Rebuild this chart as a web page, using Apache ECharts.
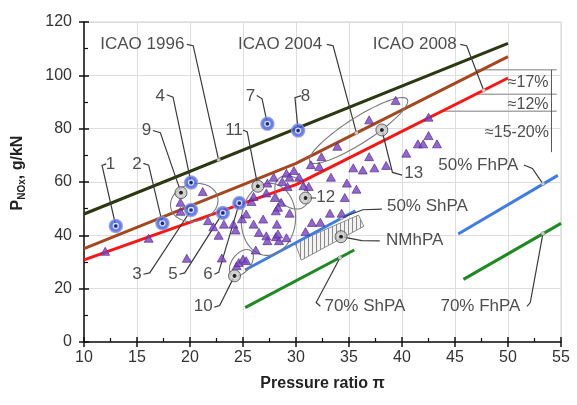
<!DOCTYPE html>
<html>
<head>
<meta charset="utf-8">
<script src="https://cdn.jsdelivr.net/npm/echarts@6/dist/echarts.min.js"></script>
<style>
  html, body { margin: 0; padding: 0; background: #fff; }
  #chart { width: 577px; height: 405px; }
</style>
</head>
<body>
<div id="chart"></div>
<script>
// ICAO limits (pressure ratio, g/kN)
var icao1996 = [[10, 48], [50, 112]];
var icao2004 = [[10, 35], [30, 67], [50, 107]];
var icao2008 = [[10, 30.8], [30, 59], [50, 99]];
var shpa50 = [[25.2, 27], [35.6, 49.2]];
var shpa70 = [[25.2, 12.9], [35.5, 34.5]];
var fhpa50 = [[45.3, 40.5], [54.7, 62.5]];
var fhpa70 = [[45.8, 23.5], [55, 44.5]];

// engines (triangles)
var engines = [
  [12.0, 34.0], [16.1, 38.9], [19.1, 52.4], [19.1, 49.0], [21.2, 56.4], [19.7, 31.4],
  [21.7, 45.5], [22.2, 43.2], [22.7, 40.0], [23.2, 44.2], [24.1, 44.2], [24.3, 42.0],
  [23.0, 31.5], [24.9, 46.2], [25.3, 48.0], [25.8, 52.7], [26.0, 54.6],
  [24.4, 28.6], [24.6, 29.8], [25.0, 31.1], [25.3, 30.5],
  [26.0, 44.2], [26.9, 46.1], [28.2, 44.2], [26.5, 41.1], [27.2, 39.8], [27.3, 38.0],
  [28.1, 39.5], [28.4, 38.0], [28.3, 40.5], [29.1, 39.1], [26.2, 34.5], [27.2, 55.9],
  [28.0, 54.2], [28.6, 52.4], [28.3, 50.5], [28.1, 49.2], [29.4, 48.3],
  [27.3, 59.6], [27.9, 61.8], [28.7, 60.2], [29.1, 63.3], [29.8, 64.3], [29.4, 61.8],
  [30.3, 61.8], [29.2, 58.3], [30.7, 58.6], [31.2, 58.3], [31.4, 66.5], [32.2, 65.8],
  [32.4, 69.5], [30.9, 41.4], [31.5, 44.8], [32.3, 44.9], [33.2, 48.3], [34.3, 48.3],
  [34.6, 54.2], [33.3, 61.8], [34.8, 59.6], [35.7, 57.3], [35.4, 65.3], [36.3, 64.5],
  [37.4, 65.3], [38.5, 66.2], [36.9, 69.5], [40.4, 70.8], [41.5, 74.3], [42.0, 74.3],
  [43.3, 74.3], [42.5, 77.4], [42.5, 84.3], [39.4, 90.6], [36.9, 83.3], [33.9, 73.4]
];

// numbered engines
var bluePoints = [[13.0, 43.5], [17.4, 44.5], [20.1, 49.5], [20.1, 59.8], [23.1, 48.4], [24.65, 52.1], [27.3, 81.8], [30.2, 79.3]];
var blackPoints = [[19.15, 56], [24.2, 24.8], [26.4, 58.4], [30.9, 54], [38.1, 79.5], [34.25, 39.5]];

// groups: centre x, centre y, end of long half-axis x, y, short/long ratio
var ellipses = [
  [20.4, 52.3, 22.6, 54.5, 0.78],
  [27.4, 46.0, 27.7, 59.5, 0.75],
  [29.6, 56.1, 30.9, 51.2, 0.75],
  [24.85, 29.7, 25.75, 34.2, 0.6],
  [35.9, 79.3, 40.5, 91.0, 0.22]
];
var nmhpaBox = [[29.9, 37.2], [35.9, 47.6], [36.4, 43.4], [30.5, 30.7]];

// annotation texts and their leaders
var labels = [
  [15.5, 111.5, 'ICAO 1996'], [28.5, 111.5, 'ICAO 2004'], [41.2, 111.5, 'ICAO 2008'],
  [17.2, 92.3, '4'], [25.7, 92.3, '7'], [30.9, 92.0, '8'], [15.9, 79.3, '9'], [24.15, 79.3, '11'],
  [12.5, 66.8, '1'], [15.0, 66.8, '2'], [15.0, 25.5, '3'], [18.4, 25.5, '5'], [21.7, 25.5, '6'],
  [21.25, 13.2, '10'], [32.8, 54.2, '12'], [41.1, 63.2, '13'],
  [42.4, 50.7, '50% ShPA'], [41.2, 38.0, 'NMhPA'], [36.5, 13.2, '70% ShPA'],
  [47.2, 66.4, '50% FhPA'], [47.4, 13.2, '70% FhPA']
];
var pctLabels = [[51.9, 97.3, '≈17%'], [51.9, 89.2, '≈12%'], [50.85, 78.5, '≈15-20%']];
var leaders = [
  [[19.7, 111.6], [20.3, 111.1], [22.7, 68.3]],
  [[32.9, 111.6], [33.5, 111.1], [35.7, 78.4]],
  [[45.5, 111.6], [46.1, 111.1], [47.7, 94.4]],
  [[17.8, 92.7], [18.4, 91.8], [20.1, 59.8]],
  [[26.3, 92.4], [26.8, 91.2], [27.3, 81.8]],
  [[30.5, 92.4], [29.9, 91.6], [30.2, 79.3]],
  [[16.5, 79.3], [17.2, 78.5], [19.15, 56]],
  [[25.0, 79.5], [25.4, 78.8], [26.4, 58.4]],
  [[12.1, 66.8], [11.7, 66.2], [13.0, 43.5]],
  [[15.6, 67.0], [16.1, 66.3], [17.4, 44.5]],
  [[15.6, 25.4], [16.2, 25.9], [20.1, 49.5]],
  [[19.0, 25.4], [19.5, 25.9], [23.1, 48.4]],
  [[22.3, 25.4], [22.7, 26.1], [24.65, 52.1]],
  [[22.3, 13.1], [22.8, 13.7], [24.2, 24.8]],
  [[30.9, 54], [31.9, 54]],
  [[40.0, 62.6], [39.1, 63.6], [38.1, 79.5]],
  [[38.1, 49.8], [36.3, 49.6], [34.3, 46.6]],
  [[37.9, 37.9], [36.2, 38.0], [34.25, 39.5]],
  [[32.3, 13.4], [31.9, 14.8], [34.15, 31.6]],
  [[51.5, 66.4], [52.3, 65.1], [53.3, 59.3]],
  [[51.8, 13.4], [52.1, 14.8], [53.3, 40.7]]
];
var leaderDots = [[22.7, 68.3], [35.7, 78.4], [47.7, 94.4], [34.3, 46.6], [34.15, 31.6], [53.3, 59.3], [53.3, 40.7]];
var bracketLines = [
  [[47.0, 102.1], [54.6, 102.1]],
  [[47.1, 92.9], [54.6, 92.9]],
  [[43.8, 86.5], [54.6, 86.5]]
];
var bracketBar = [[54.1, 102.1], [54.1, 71.2]];

var FONT = "'Liberation Sans', Arial, sans-serif";

// hatch for NMhPA box
var hatch = document.createElement('canvas');
hatch.width = 4; hatch.height = 4;
var hc = hatch.getContext('2d');
hc.fillStyle = '#f2f2f2';
hc.fillRect(0, 0, 4, 4);
hc.strokeStyle = '#8a8a8a';
hc.lineWidth = 1;
hc.beginPath(); hc.moveTo(0.5, 0); hc.lineTo(0.5, 4); hc.stroke();

function lineSeries(name, data, color) {
  return {
    name: name, type: 'line', data: data, symbol: 'none', z: 3,
    lineStyle: { color: color, width: 3 }
  };
}

function polyLines(list, color, width, z) {
  return {
    type: 'lines', coordinateSystem: 'cartesian2d', polyline: true, z: z, silent: true,
    lineStyle: { color: color, width: width, opacity: 1 },
    data: list.map(function (c) { return { coords: c }; })
  };
}

var myChart = echarts.init(document.getElementById('chart'));
var option = {
  animation: false,
  textStyle: { fontFamily: FONT },
  grid: { left: 84, right: 16, top: 22, bottom: 63, show: true, borderColor: '#cfcfcf', borderWidth: 1 },
  xAxis: [
    {
      type: 'value', min: 10, max: 55, interval: 5,
      name: 'Pressure ratio π', nameLocation: 'middle', nameGap: 34,
      nameTextStyle: { fontSize: 16, fontWeight: 'bold', color: '#222', fontFamily: FONT },
      axisLine: { lineStyle: { color: '#111', width: 1.5 } },
      axisTick: { length: 5, lineStyle: { color: '#111', width: 1.5 } },
      axisLabel: { fontSize: 16, color: '#333', margin: 8, fontFamily: FONT },
      splitLine: { show: true, lineStyle: { color: '#dedede', width: 1 } }
    },
    {
      type: 'value', min: 10, max: 55, interval: 5, position: 'bottom',
      axisLine: { show: false }, axisLabel: { show: false }, splitLine: { show: false },
      axisTick: { inside: true, length: 5, lineStyle: { color: '#111', width: 1.5 } },
      minorTick: { show: true, splitNumber: 2, length: 4, lineStyle: { color: '#111', width: 1.2 } }
    }
  ],
  yAxis: [
    {
      type: 'value', min: 0, max: 120, interval: 20,
      name: '{a|P}{b|NOx}{a|, g/kN}', nameLocation: 'middle', nameGap: 56, nameRotate: 90,
      nameTextStyle: {
        color: '#222', fontFamily: FONT, padding: [0, 0, 0, 18],
        rich: {
          a: { fontSize: 16, fontWeight: 'bold', color: '#222', fontFamily: FONT, lineHeight: 20 },
          b: { fontSize: 10, fontWeight: 'bold', color: '#222', fontFamily: FONT, lineHeight: 20, padding: [8, 0, 0, 0] }
        }
      },
      axisLine: { lineStyle: { color: '#111', width: 1.5 } },
      axisTick: { length: 5, lineStyle: { color: '#111', width: 1.5 } },
      axisLabel: { fontSize: 16, color: '#333', margin: 12, fontFamily: FONT },
      splitLine: { show: true, lineStyle: { color: '#dedede', width: 1 } }
    },
    {
      type: 'value', min: 0, max: 120, interval: 20, position: 'left',
      axisLine: { show: false }, axisLabel: { show: false }, splitLine: { show: false },
      axisTick: { inside: true, length: 5, lineStyle: { color: '#111', width: 1.5 } },
      minorTick: { show: true, splitNumber: 2, length: 4, lineStyle: { color: '#111', width: 1.2 } }
    }
  ],
  series: [
    polyLines(bracketLines, '#a8a8a8', 1.5, 1),
    polyLines([bracketBar], '#555', 1, 1),
    {
      type: 'custom', z: 2, silent: true, data: [0],
      renderItem: function (params, api) {
        return {
          type: 'polygon',
          shape: { points: nmhpaBox.map(function (p) { return api.coord(p); }) },
          style: { fill: { image: hatch, repeat: 'repeat' }, stroke: '#8a8a8a', lineWidth: 1 }
        };
      }
    },
    lineSeries('ICAO 1996', icao1996, '#2b3812'),
    lineSeries('ICAO 2004', icao2004, '#a5481f'),
    lineSeries('ICAO 2008', icao2008, '#ff1414'),
    lineSeries('50% ShPA', shpa50, '#3f7de6'),
    lineSeries('70% ShPA', shpa70, '#1e8a22'),
    lineSeries('50% FhPA', fhpa50, '#3f7de6'),
    lineSeries('70% FhPA', fhpa70, '#1e8a22'),
    polyLines(leaders, '#3a3a3a', 1.2, 4),
    {
      type: 'scatter', data: leaderDots, symbolSize: 4, z: 5, silent: true,
      itemStyle: { color: '#e8e8e8', borderColor: '#666', borderWidth: 0.5 }
    },
    {
      type: 'custom', z: 4, silent: true, data: ellipses,
      renderItem: function (params, api) {
        var c = api.coord([api.value(0), api.value(1)]);
        var e = api.coord([api.value(2), api.value(3)]);
        var ux = e[0] - c[0], uy = e[1] - c[1];
        var a = Math.sqrt(ux * ux + uy * uy);
        ux /= a; uy /= a;
        var b = a * api.value(4);
        var pts = [];
        for (var i = 0; i < 72; i++) {
          var t = i / 72 * Math.PI * 2;
          pts.push([c[0] + ux * a * Math.cos(t) - uy * b * Math.sin(t),
                    c[1] + uy * a * Math.cos(t) + ux * b * Math.sin(t)]);
        }
        return { type: 'polygon', shape: { points: pts }, style: { fill: 'none', stroke: '#7a7a7a', lineWidth: 1.1 } };
      }
    },
    {
      type: 'scatter', data: engines, symbol: 'triangle', symbolSize: [9, 8], z: 6,
      itemStyle: { color: '#7b3fc2', borderColor: '#4a2a88', borderWidth: 0.8 }
    },
    {
      type: 'scatter', data: bluePoints, symbolSize: 13, z: 7,
      itemStyle: { color: '#3d5fe8', borderColor: '#8e9ad0', borderWidth: 1.5 }
    },
    {
      type: 'scatter', data: bluePoints, symbolSize: 5, z: 8,
      itemStyle: { color: '#0d1775', borderColor: '#ffffff', borderWidth: 1.3 }
    },
    {
      type: 'scatter', data: blackPoints, symbolSize: 12, z: 7,
      itemStyle: { color: '#c4c4c4', borderColor: '#444', borderWidth: 1 }
    },
    {
      type: 'scatter', data: blackPoints, symbolSize: 5, z: 8,
      itemStyle: { color: '#000', borderColor: '#ffffff', borderWidth: 1 }
    },
    {
      type: 'scatter', z: 9, silent: true, symbolSize: 1,
      itemStyle: { color: 'rgba(0,0,0,0)' },
      data: labels.map(function (l) { return { value: [l[0], l[1]], name: l[2] }; }),
      label: {
        show: true, position: 'inside', formatter: '{b}',
        fontSize: 17, color: '#222', fontFamily: FONT
      }
    },
    {
      type: 'scatter', z: 9, silent: true, symbolSize: 1,
      itemStyle: { color: 'rgba(0,0,0,0)' },
      data: pctLabels.map(function (l) { return { value: [l[0], l[1]], name: l[2] }; }),
      label: {
        show: true, position: 'inside', formatter: '{b}',
        fontSize: 16, color: '#222', fontFamily: FONT
      }
    }
  ]
};
myChart.setOption(option);
</script>
</body>
</html>
